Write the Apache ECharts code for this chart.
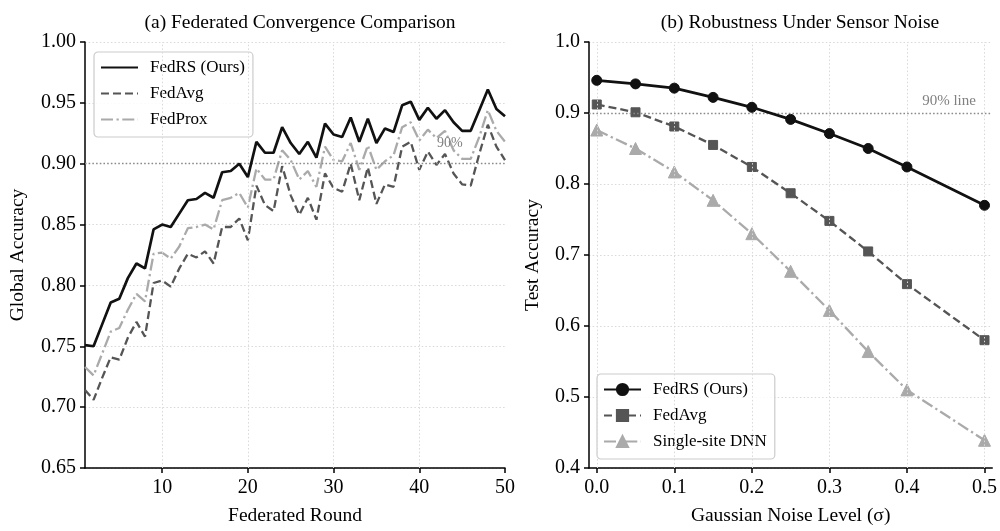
<!DOCTYPE html>
<html><head><meta charset="utf-8">
<script src="https://cdn.jsdelivr.net/npm/echarts@6/dist/echarts.min.js"></script>
<style>html,body{margin:0;padding:0;background:#fff}#c{width:1000px;height:531px}</style>
</head><body><div id="c"></div>
<script>
// ---------- data (a) ----------
const rounds = [1,2,3,4,5,6,7,8,9,10,11,12,13,14,15,16,17,18,19,20,21,22,23,24,25,26,27,28,29,30,31,32,33,34,35,36,37,38,39,40,41,42,43,44,45,46,47,48,49,50];
const fedrsA = [0.751,0.750,0.768,0.786,0.789,0.806,0.818,0.814,0.846,0.850,
                0.848,0.859,0.870,0.871,0.876,0.872,0.893,0.894,0.900,0.889,
                0.918,0.909,0.909,0.930,0.917,0.908,0.918,0.905,0.933,0.924,
                0.922,0.938,0.918,0.937,0.917,0.929,0.926,0.948,0.951,0.936,
                0.946,0.937,0.944,0.934,0.927,0.927,0.944,0.961,0.945,0.939];
const fedavgA = [0.714,0.706,0.724,0.741,0.739,0.757,0.770,0.758,0.802,0.804,
                 0.799,0.814,0.826,0.823,0.828,0.818,0.848,0.848,0.855,0.837,
                 0.882,0.866,0.861,0.898,0.874,0.858,0.872,0.854,0.892,0.880,
                 0.877,0.900,0.870,0.897,0.867,0.883,0.881,0.914,0.918,0.895,
                 0.910,0.899,0.908,0.892,0.883,0.882,0.908,0.932,0.914,0.903];
const fedproxA = [0.733,0.726,0.744,0.762,0.765,0.780,0.793,0.787,0.826,0.827,
                  0.822,0.832,0.847,0.848,0.850,0.846,0.870,0.872,0.876,0.864,
                  0.896,0.887,0.887,0.911,0.903,0.887,0.894,0.881,0.914,0.903,
                  0.902,0.917,0.895,0.915,0.895,0.902,0.907,0.930,0.934,0.919,
                  0.928,0.921,0.927,0.911,0.904,0.904,0.922,0.944,0.927,0.918];
const xTicksA = [10,20,30,40,50];
const xGridA = [10,20,30,40];
const refLevel = 0.9;
const refLabelA = {text:'90%', round:42, value:0.9165};

// ---------- data (b) ----------
const noiseLevels = [0.0,0.05,0.1,0.15,0.2,0.25,0.3,0.35,0.4,0.5];
const fedrsB = [0.946,0.941,0.935,0.922,0.908,0.891,0.871,0.850,0.824,0.770];
const fedavgB = [0.912,0.901,0.881,0.855,0.824,0.787,0.748,0.705,0.659,0.580];
const singleB = [0.876,0.850,0.817,0.777,0.730,0.677,0.622,0.564,0.510,0.439];
const xTicksB = [0.0,0.1,0.2,0.3,0.4,0.5];
const refLabelB = {text:'90% line', x:0.419, value:0.917};

const FF = '"Liberation Serif", "DejaVu Serif", serif';
const cBlack = '#111111', cDark = '#555555', cLight = '#aaaaaa';
const gridDot = {color:'#d9d9d9', width:1, type:[1.5,2.2]};
const refDot = {color:'#8a8a8a', width:1.3, type:[1.5,2.2]};
const pair = (xs, ys) => xs.map((x,i)=>[x, ys[i]]);
const TICK_FS = 20;

const chart = echarts.init(document.getElementById('c'), null, {renderer:'canvas'});

function xAxisCommon(extra){
  return Object.assign({
    type:'value',
    axisLine:{show:true, onZero:false, lineStyle:{color:'#000', width:1.5}},
    splitLine:{show:false},
    nameLocation:'middle',
    nameTextStyle:{color:'#000', fontFamily:FF, fontSize:19.5}
  }, extra);
}
function yAxisCommon(extra){
  return Object.assign({
    type:'value',
    axisLine:{show:true, onZero:false, lineStyle:{color:'#000', width:1.5}},
    axisTick:{show:true, length:5, lineStyle:{color:'#000', width:1.5}},
    splitLine:{show:true, lineStyle:gridDot},
    nameLocation:'middle',
    nameTextStyle:{color:'#000', fontFamily:FF, fontSize:19.5}
  }, extra);
}
const legendCommon = {
  orient:'vertical', itemWidth:37, itemHeight:14, itemGap:9, padding:[7,8,9,6],
  backgroundColor:'rgba(255,255,255,0.85)', borderColor:'#cccccc', borderWidth:1.2, borderRadius:4,
  textStyle:{fontFamily:FF, fontSize:17, color:'#000', padding:[0,0,0,7]}
};
const solidMarker = c => ({color:c, borderColor:c, borderWidth:1, borderType:'solid'});

const option = {
  animation:false,
  backgroundColor:'#fff',
  title:[
    {text:'(a) Federated Convergence Comparison', left:295, top:8, textAlign:'center',
     textStyle:{fontFamily:FF, fontSize:19.5, fontWeight:'normal', color:'#000'}},
    {text:'(b) Robustness Under Sensor Noise', left:795, top:8, textAlign:'center',
     textStyle:{fontFamily:FF, fontSize:19.5, fontWeight:'normal', color:'#000'}}
  ],
  grid:[
    {left:85, top:42, width:420, height:426},
    {left:589, top:42, width:411, height:426}
  ],
  legend:[
    Object.assign({}, legendCommon, {left:94, top:52,
      data:['FedRS (Ours)','FedAvg','FedProx'].map(n=>({name:n, itemStyle:{opacity:0}}))}),
    Object.assign({}, legendCommon, {left:597, top:374,
      data:['FedRS (Ours) ','FedAvg ','Single-site DNN']})
  ],
  xAxis:[
    xAxisCommon({gridIndex:0, min:1, max:50, name:'Federated Round', nameGap:38,
      axisTick:{show:true, customValues:xTicksA, length:5, lineStyle:{color:'#000', width:1.5}},
      axisLabel:{customValues:xTicksA, color:'#000', fontFamily:FF, fontSize:TICK_FS, margin:10}}),
    xAxisCommon({gridIndex:1, min:-0.01, max:0.51, name:'Gaussian Noise Level (σ)', nameGap:38,
      axisTick:{show:true, customValues:xTicksB, length:5, lineStyle:{color:'#000', width:1.5}},
      axisLabel:{customValues:xTicksB, color:'#000', fontFamily:FF, fontSize:TICK_FS, margin:10,
                 formatter:v=>Number(v).toFixed(1)}})
  ],
  yAxis:[
    yAxisCommon({gridIndex:0, min:0.65, max:1.0, interval:0.05, name:'Global Accuracy', nameGap:57,
      axisLabel:{color:'#000', fontFamily:FF, fontSize:TICK_FS, margin:9, formatter:v=>Number(v).toFixed(2)}}),
    yAxisCommon({gridIndex:1, min:0.4, max:1.0, interval:0.1, name:'Test Accuracy', nameGap:46,
      axisLabel:{color:'#000', fontFamily:FF, fontSize:TICK_FS, margin:9, formatter:v=>Number(v).toFixed(1)}})
  ],
  series:[
    {name:'FedProx', type:'line', xAxisIndex:0, yAxisIndex:0, data:pair(rounds, fedproxA),
     symbol:'none', z:3, lineStyle:{color:cLight, width:2.3, type:[12,3.5,2.3,3.5]}, itemStyle:{color:cLight},
     markLine:{silent:true, symbol:['none','none'], label:{show:false},
       data:xGridA.map(v=>({xAxis:v, lineStyle:gridDot})).concat([{yAxis:refLevel, lineStyle:refDot}])}},
    {name:'FedAvg', type:'line', xAxisIndex:0, yAxisIndex:0, data:pair(rounds, fedavgA),
     symbol:'none', z:4, lineStyle:{color:cDark, width:2.3, type:[8,4]}, itemStyle:{color:cDark},
     markPoint:{silent:true, symbol:'circle', symbolSize:1, itemStyle:{color:'rgba(0,0,0,0)'},
       label:{show:true, position:'right', distance:0, color:'#808080', fontFamily:FF, fontSize:14,
              formatter:refLabelA.text},
       data:[{coord:[refLabelA.round, refLabelA.value]}]}},
    {name:'FedRS (Ours)', type:'line', xAxisIndex:0, yAxisIndex:0, data:pair(rounds, fedrsA),
     symbol:'none', z:5, lineStyle:{color:cBlack, width:2.7}, itemStyle:{color:cBlack}},

    {name:'Single-site DNN', type:'line', xAxisIndex:1, yAxisIndex:1, data:pair(noiseLevels, singleB),
     symbol:'triangle', symbolSize:12, z:3, lineStyle:{color:cLight, width:2.3, type:[12,3.5,2.3,3.5]},
     itemStyle:solidMarker(cLight),
     markLine:{silent:true, symbol:['none','none'], label:{show:false},
       data:xTicksB.map(v=>({xAxis:v, lineStyle:gridDot})).concat([{yAxis:refLevel, lineStyle:refDot}])}},
    {name:'FedAvg ', type:'line', xAxisIndex:1, yAxisIndex:1, data:pair(noiseLevels, fedavgB),
     symbol:'rect', symbolSize:9, z:4, lineStyle:{color:cDark, width:2.3, type:[8,4]},
     itemStyle:solidMarker(cDark),
     markPoint:{silent:true, symbol:'circle', symbolSize:1, itemStyle:{color:'rgba(0,0,0,0)'},
       label:{show:true, position:'right', distance:0, color:'#808080', fontFamily:FF, fontSize:15,
              formatter:refLabelB.text},
       data:[{coord:[refLabelB.x, refLabelB.value]}]}},
    {name:'FedRS (Ours) ', type:'line', xAxisIndex:1, yAxisIndex:1, data:pair(noiseLevels, fedrsB),
     symbol:'circle', symbolSize:10, z:5, lineStyle:{color:cBlack, width:2.7}, itemStyle:solidMarker(cBlack)}
  ]
};
chart.setOption(option);
</script>
</body></html>
